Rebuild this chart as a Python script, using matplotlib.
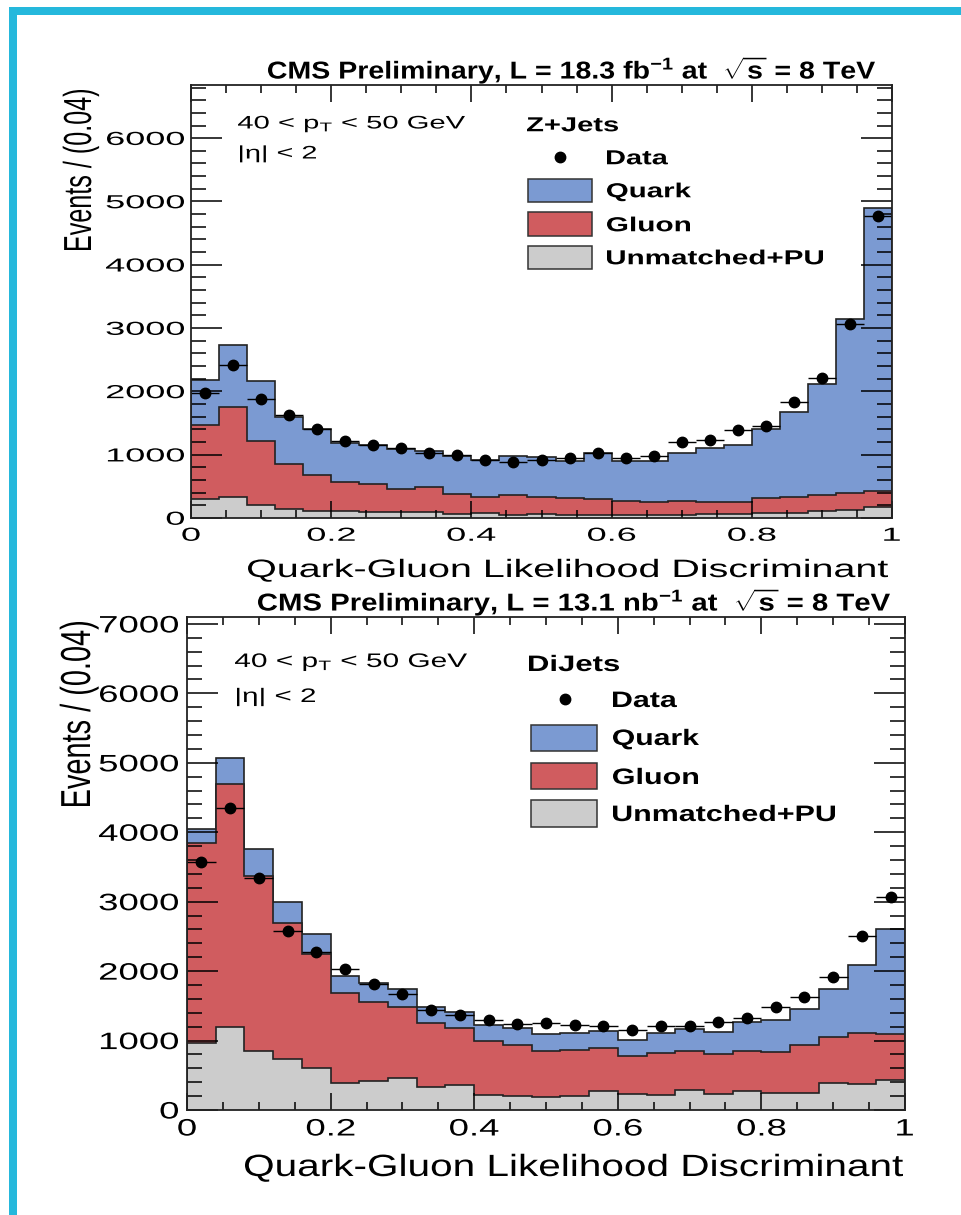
import numpy as np
import matplotlib
matplotlib.use('Agg')
import matplotlib.pyplot as plt
from matplotlib.patches import Rectangle, PathPatch
from matplotlib.lines import Line2D
from matplotlib.ticker import MultipleLocator
from matplotlib.textpath import TextPath
from matplotlib.font_manager import FontProperties
from matplotlib.transforms import Affine2D

plt.rcParams['mathtext.fontset'] = 'custom'
plt.rcParams['mathtext.rm'] = 'Liberation Sans'
plt.rcParams['mathtext.it'] = 'Liberation Sans'
plt.rcParams['mathtext.bf'] = 'Liberation Sans:bold'

edges = np.linspace(0, 1, 26)  # 25 bins of 0.04

# Z+Jets (top panel), per-component counts
zj_unmatched = [295, 337, 205, 142, 116, 110, 100, 100, 100, 58, 74, 47, 58,
                47, 47, 42, 42, 47, 58, 58, 79, 79, 116, 126, 179]
zj_gluon = [1174, 1422, 1017, 706, 563, 464, 437, 353, 385, 321, 263, 316, 279,
            264, 248, 232, 216, 227, 190, 200, 232, 248, 247, 264, 252]
zj_quark = [711, 974, 942, 742, 726, 616, 616, 632, 579, 601, 579, 617, 632,
            589, 726, 626, 642, 747, 852, 895, 1089, 1341, 1753, 2753, 4459]
zj_data = [1980, 2417, 1880, 1627, 1400, 1222, 1148, 1106, 1021, 995, 911, 880, 916,
           943, 1032, 943, 980, 1206, 1232, 1390, 1459, 1827, 2206, 3064, 4776]

# DiJets (bottom panel)
dj_unmatched = [961, 1201, 850, 730, 610, 394, 418, 457, 336, 355, 216, 202, 192,
                202, 274, 226, 216, 288, 231, 278, 250, 250, 394, 370, 432]
dj_gluon = [2882, 3496, 2522, 1969, 1638, 1296, 1143, 1023, 922, 822, 783, 735, 653,
            663, 624, 552, 610, 562, 576, 572, 581, 687, 663, 744, 663]
dj_quark = [202, 371, 384, 303, 288, 241, 264, 264, 231, 231, 226, 249, 245,
            249, 245, 231, 288, 312, 322, 423, 466, 514, 687, 975, 1509]
dj_data = [3569, 4356, 3338, 2579, 2272, 2027, 1816, 1671, 1441, 1369, 1297, 1239, 1258,
           1225, 1210, 1153, 1210, 1210, 1273, 1331, 1489, 1624, 1921, 2507, 3074]

xticks = [0, 0.2, 0.4, 0.6, 0.8, 1]
xticklabels = ['0', '0.2', '0.4', '0.6', '0.8', '1']
legend_labels = ['Data', 'Quark', 'Gluon', 'Unmatched+PU']

c_quark = '#7B9AD2'
c_gluon = '#D05C5F'
c_unm = '#CCCCCC'
c_frame = '#25B8DC'

W, H = 962, 1215
CAP = 0.716  # cap height / em for Liberation Sans
def fx(x): return x / W
def fy(y): return 1 - y / H

fig = plt.figure(figsize=(W/100, H/100), dpi=100)

def tpath(s, em, weight='normal'):
    return TextPath((0, 0), s, size=em, prop=FontProperties(family='Liberation Sans', weight=weight))

def natural_width(s, em, weight='normal'):
    bb = tpath(s, em, weight).get_extents()
    return bb.x1 - bb.x0

def stext(x, y, s, cap, a=1.0, ha='left', weight='normal', width=None):
    # the slide image is stretched sideways, so text gets an x scale factor a
    em = cap / CAP
    if width is not None:
        a = width / natural_width(s, em, weight)
    tp = tpath(s, em, weight)
    bb = tp.get_extents()
    dx = {'left': -bb.x0, 'center': -(bb.x0 + bb.x1) / 2, 'right': -bb.x1}[ha]
    tr = Affine2D().translate(dx, -cap / 2).scale(a, 1).translate(x, H - y)
    fig.add_artist(PathPatch(tp, transform=tr, facecolor='black', edgecolor='none', lw=0))

def vtext(x, ytop, s, length, capw):
    # rotated y title, fitted to its length along y and its width along x
    em = length / natural_width(s, 1.0)
    tp = tpath(s, em)
    bb = tp.get_extents()
    b = capw / (CAP * em)
    tr = (Affine2D().translate(-bb.x1, -CAP * em / 2).scale(1, b)
          .rotate_deg(90).translate(x, H - ytop))
    fig.add_artist(PathPatch(tp, transform=tr, facecolor='black', edgecolor='none', lw=0))

def panel(box, unm, glu, qrk, data, ymax, ycap, ywidth, yright, xcap, xlab_y):
    x0, y0, x1, y1 = box
    ax = fig.add_axes([fx(x0), fy(y1), fx(x1) - fx(x0), fy(y0) - fy(y1)])
    unm = np.array(unm); glu = np.array(glu); qrk = np.array(qrk)
    ax.stairs(unm + glu + qrk, edges, fill=True, facecolor=c_quark, edgecolor='#222222', lw=1.2)
    ax.stairs(unm + glu, edges, fill=True, facecolor=c_gluon, edgecolor='#222222', lw=1.2)
    ax.stairs(unm, edges, fill=True, facecolor=c_unm, edgecolor='#222222', lw=1.2)
    centers = 0.5 * (edges[:-1] + edges[1:])
    ax.errorbar(centers, data, xerr=0.02, fmt='o', color='black', ms=7.5, elinewidth=1, capsize=0)
    ax.set_xlim(0, 1)
    ax.set_ylim(0, ymax)
    ax.xaxis.set_major_locator(MultipleLocator(0.2))
    ax.xaxis.set_minor_locator(MultipleLocator(0.05))
    ax.yaxis.set_major_locator(MultipleLocator(1000))
    ax.yaxis.set_minor_locator(MultipleLocator(200))
    ax.tick_params(which='both', direction='in', top=True, right=True, width=1.1,
                   labelbottom=False, labelleft=False)
    ax.tick_params(axis='y', which='major', length=22)
    ax.tick_params(axis='y', which='minor', length=11)
    ax.tick_params(axis='x', which='major', length=12)
    ax.tick_params(axis='x', which='minor', length=6)
    for s in ax.spines.values():
        s.set_linewidth(1.3)
        s.set_color('#222222')
    # tick labels, stretched like the rest of the slide
    a_y = ywidth / natural_width('6000', ycap / CAP)
    for v in range(0, int(ymax) + 1, 1000):
        px, py = ax.transData.transform((0, v))
        stext(yright, H - py, str(v), ycap, a=a_y, ha='right')
    for v, lab in zip(xticks, xticklabels):
        px, py = ax.transData.transform((v, 0))
        stext(px, xlab_y, lab, xcap, a=a_y, ha='center')
    return ax

ax1 = panel((191, 85, 892, 518), zj_unmatched, zj_gluon, zj_quark, zj_data, 6840,
            13.5, 77, 184, 13.5, 534)
ax2 = panel((187, 617, 905, 1110), dj_unmatched, dj_gluon, dj_quark, dj_data, 7100,
            17, 78, 178, 17, 1127)

# titles
stext(875, 70, r'CMS Preliminary, L = 18.3 fb$^{\mathbf{-1}}$ at  $\mathbf{\sqrt{s}}$ = 8 TeV',
      17.5, ha='right', weight='bold', width=607)
stext(890, 602, r'CMS Preliminary, L = 13.1 nb$^{\mathbf{-1}}$ at  $\mathbf{\sqrt{s}}$ = 8 TeV',
      17.5, ha='right', weight='bold', width=632)

# axis titles
stext(888, 568, 'Quark-Gluon Likelihood Discriminant', 18, ha='right', width=640)
stext(903, 1165, 'Quark-Gluon Likelihood Discriminant', 22, ha='right', width=658)
vtext(77, 90, 'Events / (0.04)', 160, 28)
vtext(75, 622, 'Events / (0.04)', 184, 30)

# selection text
stext(238, 122, r'40 < p$_{\mathrm{T}}$ < 50 GeV', 13, width=227)
stext(240, 152, '|η| < 2', 13, width=76)
stext(235, 660, r'40 < p$_{\mathrm{T}}$ < 50 GeV', 14, width=232)
stext(237, 695, '|η| < 2', 14, width=78)

# legends
def legend(title, title_w, tx, ty, mx, my, textx, rows, widths, bx0, bx1, boxes, cap):
    stext(tx, ty, title, cap, weight='bold', width=title_w)
    fig.add_artist(Line2D([fx(mx)], [fy(my)], marker='o', color='black', ms=7.5))
    for lab, ry, wd in zip(legend_labels, rows, widths):
        stext(textx, ry, lab, cap, weight='bold', width=wd)
    for (top, bot), col in zip(boxes, [c_quark, c_gluon, c_unm]):
        fig.add_artist(Rectangle((fx(bx0), fy(bot)), fx(bx1) - fx(bx0), fy(top) - fy(bot),
                                 facecolor=col, edgecolor='#333333', lw=1.1))

legend('Z+Jets', 91, 527, 124, 560, 157, 607, [157, 190, 224, 257], [61, 84, 83, 216],
       528, 592, [(179, 202), (212, 236), (246, 269)], 14.5)
legend('DiJets', 90, 529, 663, 565, 699, 613, [699, 737, 776, 813], [64, 86, 85, 222],
       531, 597, [(725, 751), (763, 789), (800, 827)], 16)

# cyan slide frame
fig.add_artist(Rectangle((fx(9), fy(15)), 1 - fx(9), fy(7) - fy(15), facecolor=c_frame, edgecolor='none'))
fig.add_artist(Rectangle((fx(9), 0), fx(17) - fx(9), fy(7), facecolor=c_frame, edgecolor='none'))

fig.savefig('out.png', dpi=100)
